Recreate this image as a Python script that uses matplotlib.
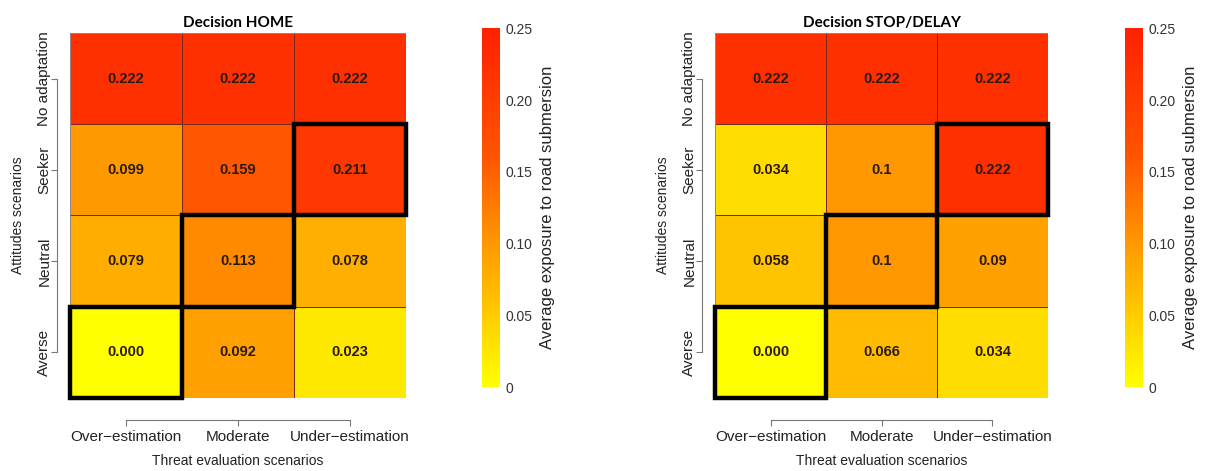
import numpy as np
import matplotlib.pyplot as plt
from matplotlib.colors import LinearSegmentedColormap
from matplotlib.patches import Rectangle

# rows listed bottom -> top, columns left -> right
attitudes = ['Averse', 'Neutral', 'Seeker', 'No adaptation']
threats = ['Over\u2212estimation', 'Moderate', 'Under\u2212estimation']

home_values = np.array([[0.000, 0.092, 0.023],
                        [0.079, 0.113, 0.078],
                        [0.099, 0.159, 0.211],
                        [0.222, 0.222, 0.222]])
home_labels = [['0.000', '0.092', '0.023'],
               ['0.079', '0.113', '0.078'],
               ['0.099', '0.159', '0.211'],
               ['0.222', '0.222', '0.222']]

stop_values = np.array([[0.000, 0.066, 0.034],
                        [0.058, 0.100, 0.090],
                        [0.034, 0.100, 0.222],
                        [0.222, 0.222, 0.222]])
stop_labels = [['0.000', '0.066', '0.034'],
               ['0.058', '0.1', '0.09'],
               ['0.034', '0.1', '0.222'],
               ['0.222', '0.222', '0.222']]

# highlighted cells (row, col)
highlight = [(0, 0), (1, 1), (2, 2)]

cbar_ticks = [0, 0.05, 0.10, 0.15, 0.20, 0.25]
cbar_ticklabels = ['0', '0.05', '0.10', '0.15', '0.20', '0.25']

cmap = LinearSegmentedColormap.from_list(
    'heat', [(0.0, '#ffff00'), (0.4, '#ff9800'), (0.64, '#ff5500'), (1.0, '#ff2000')])

plt.rcParams['font.family'] = ['Liberation Sans', 'DejaVu Sans']

fig = plt.figure(figsize=(12.05, 4.71), dpi=100)

panels = [
    ('Decision HOME', home_values, home_labels, [0.0581, 0.155, 0.2788, 0.775], [0.400, 0.178, 0.015, 0.762]),
    ('Decision STOP/DELAY', stop_values, stop_labels, [0.5934, 0.155, 0.2763, 0.775], [0.9336, 0.178, 0.015, 0.762]),
]

for title, vals, labels, rect, crect in panels:
    ax = fig.add_axes(rect)
    mesh = ax.pcolormesh(vals, cmap=cmap, vmin=0, vmax=0.25,
                         edgecolors='#7a2a1a', linewidth=0.5)
    for i in range(vals.shape[0]):
        for j in range(vals.shape[1]):
            ax.text(j + 0.5, i + 0.5, labels[i][j], ha='center', va='center',
                    fontsize=10.5, fontweight='bold', color='#2a1a10')
    for (i, j) in highlight:
        ax.add_patch(Rectangle((j, i), 1, 1, fill=False, edgecolor='black',
                               linewidth=3.2, clip_on=False, zorder=5))
    ax.set_xlim(0, 3)
    ax.set_ylim(0, 4)
    # R-style detached axes (set before labels, since this resets ticks)
    for s in ['top', 'right']:
        ax.spines[s].set_visible(False)
    ax.spines['left'].set_position(('outward', 9.5))
    ax.spines['left'].set_bounds(0.5, 3.5)
    ax.spines['bottom'].set_position(('outward', 16))
    ax.spines['bottom'].set_bounds(0.5, 2.5)
    for s in ['left', 'bottom']:
        ax.spines[s].set_color('#777777')
        ax.spines[s].set_linewidth(0.8)
    ax.set_xticks(np.arange(3) + 0.5)
    ax.set_xticklabels(threats, fontsize=11)
    ax.set_yticks(np.arange(4) + 0.5)
    ax.set_yticklabels(attitudes, fontsize=11)
    ax.tick_params(colors='#777777', labelcolor='#222222', length=4, width=0.8, pad=3)
    ax.tick_params(axis='y', labelrotation=90, pad=5)
    for lab in ax.get_yticklabels():
        lab.set_verticalalignment('center')
        lab.set_horizontalalignment('center')
    ax.set_xlabel('Threat evaluation scenarios', fontsize=10, color='#222222', labelpad=7)
    ax.set_ylabel('Attitudes scenarios', fontsize=10, color='#222222', labelpad=9)
    ax.set_title(title, fontsize=11, fontweight='bold', family=['Lato', 'DejaVu Sans'], pad=4)
    # light frame round the grid
    ax.add_patch(Rectangle((0, 0), 3, 4, fill=False, edgecolor='#999999', linewidth=0.6, zorder=4))

    cax = fig.add_axes(crect)
    cb = fig.colorbar(mesh, cax=cax, ticks=cbar_ticks)
    cb.outline.set_visible(False)
    cb.ax.set_yticklabels(cbar_ticklabels)
    cb.ax.tick_params(length=0, labelsize=10, labelcolor='#333333', pad=4)
    cb.set_label('Average exposure to road submersion', fontsize=12, color='#222222', labelpad=5)

fig.savefig('out.png', dpi=100)
